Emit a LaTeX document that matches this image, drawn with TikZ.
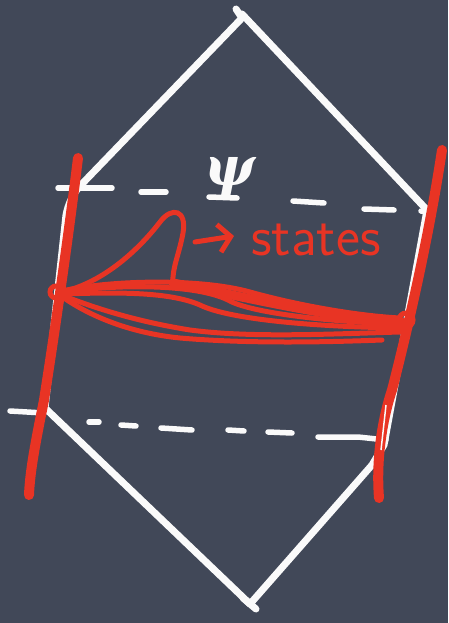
\documentclass[tikz,border=0pt]{standalone}
\usepackage{fontspec}
\newfontfamily\greekfont{DejaVu Serif}
\usetikzlibrary{arrows.meta}
\definecolor{board}{HTML}{414858}
\definecolor{chalkred}{HTML}{E83424}
\definecolor{chalkwhite}{HTML}{FAFAFA}
\tikzset{
  whiteline/.style={draw=chalkwhite, line width=7pt, line cap=round, line join=round},
  whitedash/.style={draw=chalkwhite, line width=5.5pt, line cap=round},
  redpole/.style={draw=chalkred, line width=10pt, line cap=round},
  redcurve/.style={draw=chalkred, line width=5pt, line cap=round},
  redthick/.style={draw=chalkred, line width=9pt, line cap=round},
}
\begin{document}
\begin{tikzpicture}[x=1pt,y=-1pt]
\useasboundingbox (0,0) rectangle (448,623);
\fill[board] (0,0) rectangle (448,623);

% white diamond
\draw[whiteline] (236,9) -- (242,18) -- (80,186) .. controls (72,195) and (68,205) .. (66,215) -- (45,408) -- (250,604);
\draw[whiteline] (242,14) -- (427,210) -- (384,445) -- (372,465) -- (250,604);
\draw[whiteline] (243,598) -- (256,609);

% top dashed line
\draw[whitedash] (58,188) -- (112,188);
\draw[whitedash] (141,192) -- (166,192);
\draw[whitedash] (209,197) -- (237,198);
\draw[whitedash] (293,201) -- (324,203);
\draw[whitedash] (364,209) -- (394,210);
\draw[whitedash] (421,211) -- (430,213);
\node[text=chalkwhite, inner sep=0pt] (psi) at (230,177) {\fontsize{54}{54}\selectfont\greekfont\bfseries\itshape ψ};

% bottom dashed line
\draw[whitedash] (10,411) -- (44,413);
\draw[whitedash] (89,422) -- (99,422);
\draw[whitedash] (121,425) -- (136,426);
\draw[whitedash] (161,428) -- (192,430);
\draw[whitedash] (228,430) -- (244,431);
\draw[whitedash] (268,432) -- (292,433);
\draw[whitedash] (318,437) -- (358,437) -- (386,440);

% red poles
\draw[redpole] (78,158) .. controls (68,240) and (55,330) .. (44,400) .. controls (36,440) and (30,470) .. (29,495);
\draw[redpole] (442,150) .. controls (430,230) and (410,320) .. (392,390) .. controls (382,420) and (376,460) .. (379,498);
\draw[draw=chalkwhite, line width=1.5pt] (386,405) -- (381,450);
\draw[redcurve] (56,292) circle (6);
\draw[redcurve] (406,320) circle (7);

% red bundle
\draw[redcurve] (62,292) .. controls (105,282) and (140,248) .. (160,222) .. controls (172,206) and (187,210) .. (183,233) .. controls (179,255) and (172,268) .. (173,283);
\draw[redcurve] (62,291) .. controls (110,280) and (200,278) .. (250,292) .. controls (300,306) and (360,316) .. (400,318);
\draw[redcurve] (62,292) .. controls (120,284) and (195,284) .. (228,300) .. controls (250,313) and (330,322) .. (400,324);
\draw[redcurve] (64,294) .. controls (120,292) and (170,292) .. (200,305) .. controls (230,320) and (320,327) .. (402,328);
\draw[redcurve] (64,296) .. controls (100,310) and (140,322) .. (190,330) .. controls (250,338) and (330,334) .. (400,332);
\draw[redcurve] (64,298) .. controls (90,316) and (130,333) .. (180,338) .. controls (250,344) and (330,342) .. (382,340);
\draw[redthick] (173,283) .. controls (250,298) and (330,318) .. (402,322);

% label
\draw[redcurve, -{Straight Barb[length=12pt, width=28pt, line width=5pt]}] (195,242) -- (234,236);
\node[text=chalkred, anchor=west, inner sep=0pt] (states) at (251,240) {\fontsize{57}{57}\selectfont\sffamily states};
\end{tikzpicture}
\end{document}
